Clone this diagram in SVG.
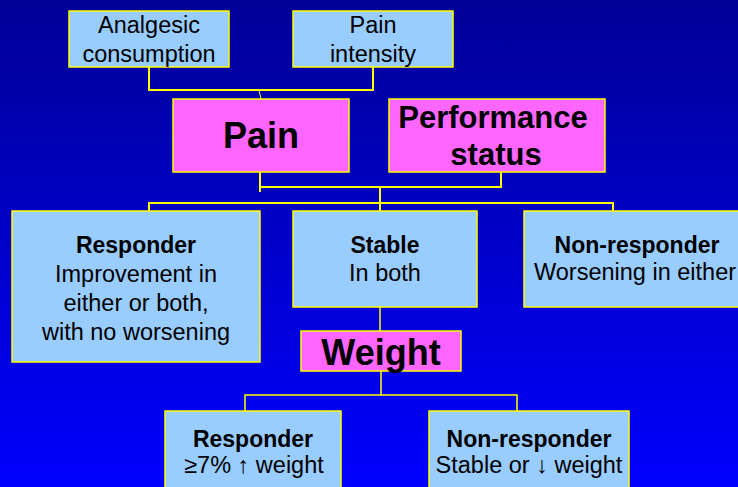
<svg xmlns="http://www.w3.org/2000/svg" width="738" height="487" viewBox="0 0 738 487">
<defs>
<linearGradient id="bg" x1="0" y1="0" x2="0" y2="1">
<stop offset="0" stop-color="#000096"/>
<stop offset="1" stop-color="#0000FF"/>
</linearGradient>
<style>
.blue{fill:#99CCFF;stroke:#FFFF00;stroke-width:1.5}
.pink{fill:#FF66FF;stroke:#FFFF00;stroke-width:1.5}
.t{font-family:"Liberation Sans",Arial,Helvetica,sans-serif;fill:#000;text-anchor:middle}
.r{font-size:23.5px}
.b{font-size:23px;font-weight:bold}
.big{font-size:36px;font-weight:bold}
.mid{font-size:31px;font-weight:bold}
.c{fill:none;stroke:#FFFF00;stroke-width:2}
.c2{fill:none;stroke:#FFFF00;stroke-width:1.5}
</style>
</defs>
<rect x="0" y="0" width="738" height="487" fill="url(#bg)"/>
<g id="connectors">
<polyline class="c" points="149,67 149,90 373,90 373,67"/>
<line x1="259" y1="90" x2="261" y2="99" stroke="#FFFF00" stroke-width="1"/>
<line class="c" x1="260" y1="172" x2="260" y2="192"/>
<polyline class="c" points="260,187 501,187 501,172"/>
<line class="c" x1="380" y1="187" x2="380" y2="211"/>
<polyline class="c" points="149,211 149,203 613,203 613,211"/>
<line class="c2" x1="380" y1="307" x2="380" y2="331"/>
<line class="c2" x1="381" y1="371" x2="381" y2="395"/>
<polyline class="c2" points="245,411 245,395 517,395 517,411"/>
</g>
<g id="analgesic">
<rect class="blue" x="69" y="11" width="160" height="56"/>
<text class="t r" x="149" y="33">Analgesic</text>
<text class="t r" x="149" y="62">consumption</text>
</g>
<g id="intensity">
<rect class="blue" x="293" y="11" width="160" height="56"/>
<text class="t r" x="373" y="33">Pain</text>
<text class="t r" x="373" y="62">intensity</text>
</g>
<g id="pain">
<rect class="pink" x="173" y="99" width="176" height="73"/>
<text class="t big" x="261" y="148">Pain</text>
</g>
<g id="performance">
<rect class="pink" x="389" y="99" width="216" height="73"/>
<text class="t mid" x="493" y="128">Performance</text>
<text class="t mid" x="496" y="165">status</text>
</g>
<g id="responder">
<rect class="blue" x="12" y="211" width="248" height="151"/>
<text class="t b" x="136" y="253">Responder</text>
<text class="t r" x="136" y="282">Improvement in</text>
<text class="t r" x="136" y="311">either or both,</text>
<text class="t r" x="136" y="340">with no worsening</text>
</g>
<g id="stable">
<rect class="blue" x="293" y="211" width="184" height="96"/>
<text class="t b" x="385" y="253">Stable</text>
<text class="t r" x="385" y="281">In both</text>
</g>
<g id="nonresponder">
<rect class="blue" x="524" y="211" width="228" height="96"/>
<text class="t b" x="637" y="253">Non-responder</text>
<text class="t r" x="534" y="280" style="text-anchor:start">Worsening in either</text>
</g>
<g id="weight">
<rect class="pink" x="301" y="331" width="160" height="40"/>
<text class="t big" x="381" y="365">Weight</text>
</g>
<g id="wresponder">
<rect class="blue" x="165" y="411" width="176" height="90"/>
<text class="t b" x="253" y="447">Responder</text>
<text class="t r" x="254" y="473">≥7% ↑ weight</text>
</g>
<g id="wnonresponder">
<rect class="blue" x="429" y="411" width="200" height="90"/>
<text class="t b" x="529" y="447">Non-responder</text>
<text class="t r" x="529" y="473">Stable or ↓ weight</text>
</g>
</svg>
